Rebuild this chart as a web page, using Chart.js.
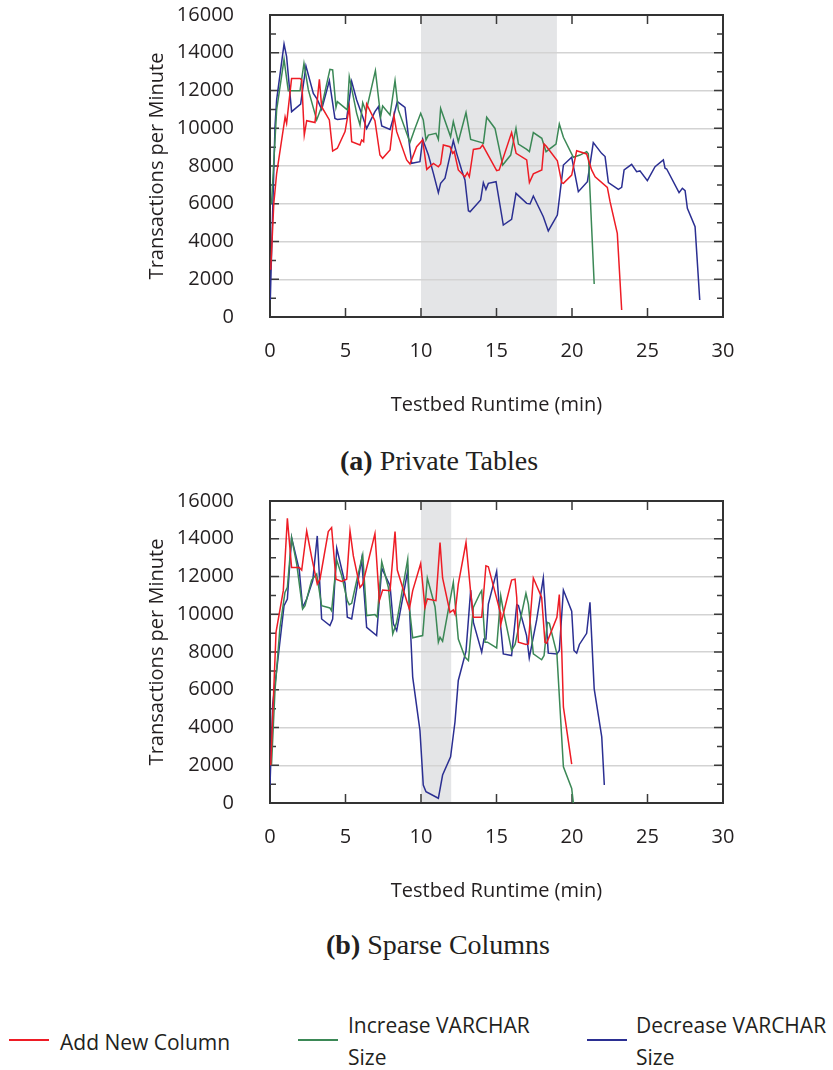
<!DOCTYPE html>
<html>
<head>
<meta charset="utf-8">
<script src="https://cdn.jsdelivr.net/npm/chart.js@4.4.0/dist/chart.umd.min.js"></script>
<style>
    body { margin: 0; background: #fff; width: 833px; height: 1070px; position: relative; overflow: hidden; font-family: 'Open Sans', sans-serif; color: #231f20; }
    canvas { position: absolute; left: 0; }
    #chart-a { top: 0; }
    #chart-b { top: 486px; }
    .caption { position: absolute; font-family: 'Liberation Serif', serif; font-size: 28px; white-space: nowrap; line-height: 1; }
    .caption b { font-weight: bold; }
    .legend-line { position: absolute; height: 2px; width: 40px; }
    .legend-text { position: absolute; font-size: 21px; line-height: 32px; white-space: nowrap; }
</style>
</head>
<body>
<canvas id="chart-a" width="833" height="430"></canvas>
<canvas id="chart-b" width="833" height="430"></canvas>

<div class="caption" style="left:340px; top:447px;"><b>(a)</b> Private Tables</div>
<div class="caption" style="left:326px; top:931px;"><b>(b)</b> Sparse Columns</div>

<div class="legend-line" style="left:9px; top:1039px; background:#ee1c25;"></div>
<div class="legend-text" style="left:60px; top:1026px;">Add New Column</div>
<div class="legend-line" style="left:298px; top:1039px; background:#3b8856;"></div>
<div class="legend-text" style="left:348px; top:1009px;">Increase VARCHAR<br>Size</div>
<div class="legend-line" style="left:587px; top:1039px; background:#2b2f92;"></div>
<div class="legend-text" style="left:636px; top:1009px;">Decrease VARCHAR<br>Size</div>

<script>
// --- DATA: [minute, transactions per minute] ---
const seriesNames = ['Add New Column', 'Increase VARCHAR Size', 'Decrease VARCHAR Size'];
const seriesColors = ['#ee1c25', '#3b8856', '#2b2f92'];

// (a) Private Tables
const redA = [[0.05,2500],[0.25,6000],[0.44,7600],[1.0,10600],[1.1,10260],[1.43,12640],[1.99,12640],[2.1,12560],[2.27,9640],[2.43,10400],[2.98,10300],[3.27,12590],[3.42,11140],[3.93,10440],[4.15,8790],[4.46,8940],[4.97,9820],[5.25,11110],[5.41,9290],[5.96,9110],[6.07,9380],[6.2,9290],[6.4,11280],[6.95,10400],[7.28,8580],[7.46,8410],[7.95,8850],[8.21,10650],[8.39,9820],[9.05,8320],[9.27,8110],[9.71,9020],[10.11,9380],[10.38,7820],[10.82,8140],[11.15,7960],[11.3,8110],[11.48,9110],[11.92,9020],[12.1,8670],[12.2,8760],[12.47,7790],[12.91,7430],[13.07,7650],[13.2,7430],[13.47,8880],[13.91,8940],[14.08,9110],[15.01,7750],[15.18,7790],[16.0,9770],[16.3,8670],[17.0,8320],[17.18,7120],[17.44,7580],[18.0,7790],[18.15,9170],[18.3,9050],[19.03,8280],[19.32,7120],[19.43,7080],[19.98,7520],[20.31,8810],[20.97,8640],[21.3,7790],[21.53,7430],[22.34,6870],[22.52,6110],[23.0,4430],[23.29,370]];
const greenA = [[0.1,6000],[0.44,10970],[0.93,13650],[1.21,11990],[1.99,11990],[2.25,13440],[2.54,12030],[3.09,10440],[3.42,11140],[3.97,13120],[4.15,13090],[4.37,11110],[4.46,11410],[5.12,10970],[5.25,12730],[5.74,10790],[5.96,10170],[6.14,11360],[6.36,10880],[6.98,13050],[7.33,10610],[7.46,11180],[7.95,10700],[8.28,12520],[8.5,10970],[9.27,9240],[9.6,9990],[9.98,10790],[10.15,10440],[10.33,9380],[10.49,9640],[10.99,9730],[11.15,9410],[11.3,11050],[11.96,9550],[12.14,10350],[12.47,9290],[12.98,10830],[13.29,9410],[14.02,9240],[14.13,9200],[14.35,10580],[14.9,9990],[15.41,8050],[15.94,8580],[16.29,9990],[16.45,9160],[17.0,8880],[17.18,8760],[17.44,9770],[18.0,9470],[18.28,8760],[18.94,9160],[19.16,10220],[19.43,9520],[20.09,8460],[20.53,8580],[20.97,8760],[21.08,8650],[21.47,1750]];
const blueA = [[0.02,900],[0.33,10080],[0.44,11500],[0.93,14460],[1.1,13790],[1.43,10880],[2.03,11280],[2.38,13300],[2.87,11850],[3.13,11530],[3.42,11000],[3.93,12520],[4.3,10520],[4.46,10470],[5.08,10520],[5.41,12470],[5.74,11500],[6.14,10610],[6.4,9990],[6.95,10880],[7.18,11140],[7.4,10120],[7.95,9940],[8.13,10440],[8.43,11410],[8.94,11110],[9.38,8140],[9.93,8230],[10.11,9410],[10.49,8580],[10.82,7610],[11.15,6590],[11.3,7080],[11.59,7350],[12.14,9340],[12.36,8670],[12.69,7790],[12.91,7260],[13.14,5630],[13.25,5580],[13.95,6200],[14.13,7120],[14.3,6760],[14.46,7080],[14.97,7170],[15.45,4870],[16.0,5170],[16.29,6550],[17.0,6020],[17.22,5990],[17.44,6410],[18.1,5310],[18.43,4560],[19.03,5400],[19.43,8050],[19.98,8460],[20.42,6640],[21.02,7170],[21.41,9240],[21.96,8670],[22.19,8500],[22.41,7120],[23.07,6760],[23.29,6870],[23.45,7790],[23.95,8090],[24.28,7700],[24.5,7740],[24.99,7220],[25.5,7960],[26.05,8320],[26.16,7880],[26.27,7840],[27.09,6590],[27.31,6820],[27.49,6690],[27.64,5760],[28.15,4790],[28.46,900]];

// (b) Sparse Columns
const redB = [[0.05,2000],[0.4,9050],[0.88,11250],[1.15,15080],[1.43,12480],[1.94,12480],[2.1,12340],[2.43,14410],[2.76,13010],[3.13,11600],[3.31,11860],[3.86,14380],[4.08,14590],[4.37,11860],[4.75,11740],[5.08,11860],[5.3,14410],[5.52,13090],[5.96,11420],[6.14,11600],[6.95,14270],[7.24,10720],[7.46,11280],[7.95,11250],[8.28,14380],[8.43,12340],[9.05,10720],[9.23,10280],[9.45,11250],[9.98,12690],[10.26,10370],[10.42,10810],[10.99,10720],[11.26,13800],[11.43,11920],[11.92,10100],[12.14,10230],[12.25,10010],[12.47,11600],[12.98,13800],[13.29,11160],[13.47,9840],[14.02,9840],[14.3,12570],[14.46,12520],[15.25,10100],[15.28,9450],[16.0,11810],[16.23,11860],[16.34,10890],[16.45,8520],[16.95,8400],[17.11,8430],[17.44,11920],[17.99,10890],[18.21,8520],[18.32,8470],[19.0,9840],[19.16,11040],[19.32,8080],[19.43,5090],[19.98,2060]];
const greenB = [[0.1,2000],[0.33,5970],[0.66,9310],[0.99,11160],[1.15,11420],[1.43,14060],[1.77,12650],[2.16,10280],[2.32,10450],[2.76,11810],[3.09,12130],[3.42,10450],[3.97,10330],[4.08,10190],[4.42,12870],[4.75,12040],[5.12,10720],[5.25,10510],[5.41,10580],[5.78,11920],[6.14,13150],[6.4,9930],[6.95,9980],[7.1,9840],[7.4,12780],[7.84,11420],[8.13,8960],[8.39,9570],[9.12,12920],[9.23,10370],[9.45,8750],[10.11,8870],[10.42,11920],[10.93,10400],[11.15,8520],[11.26,8780],[11.43,8570],[12.14,11690],[12.47,8690],[12.91,7730],[13.14,7550],[13.47,10370],[13.91,11110],[14.02,11250],[14.24,8520],[14.4,8520],[15.01,8220],[15.28,10980],[15.45,10190],[16.0,8080],[16.23,8400],[16.95,11110],[17.11,10540],[17.44,7900],[17.99,7590],[18.15,7810],[18.37,9570],[18.5,9520],[19.0,7900],[19.43,1920],[19.98,770],[20.09,0]];
const blueB = [[0.0,950],[0.18,5260],[0.44,7020],[0.93,10450],[1.15,10810],[1.43,14060],[1.94,12340],[2.16,10370],[2.43,10810],[2.83,11780],[3.13,14150],[3.42,9750],[3.97,9400],[4.15,9750],[4.42,13500],[4.97,11630],[5.12,9840],[5.41,9750],[6.07,12920],[6.4,9310],[7.06,8870],[7.4,12440],[7.95,11510],[8.17,9490],[8.39,9130],[9.12,12300],[9.45,6670],[9.93,3850],[10.15,950],[10.33,600],[11.15,250],[11.43,1480],[11.96,2450],[12.25,4290],[12.47,6490],[12.98,8040],[13.29,11280],[13.47,9570],[14.02,7990],[14.17,8690],[14.3,8690],[14.46,10540],[15.01,12270],[15.28,9310],[15.45,7900],[16.0,7810],[16.34,10510],[16.45,10460],[16.99,8870],[17.17,7690],[17.66,9700],[18.1,11920],[18.43,7940],[19.0,7900],[19.16,8080],[19.43,11280],[19.98,10160],[20.13,8080],[20.31,7940],[20.49,8400],[20.97,8990],[21.19,10630],[21.47,6050],[21.97,3500],[22.14,950]];

// shaded intervals (minutes)
const shadeA = [10, 19];
const shadeB = [10, 12];

// axes
const xMax = 30, xStep = 5;
const yMax = 16000, yStep = 2000;
const xTitle = 'Testbed Runtime (min)';
const yTitle = 'Transactions per Minute';

// --- PLUGIN: shaded band, inward ticks and frame ---
const framePlugin = {
    id: 'frame',
    beforeDraw(chart, args, opts) {
        const { ctx, chartArea: a, scales: { x } } = chart;
        const x0 = x.getPixelForValue(opts.shade[0]);
        const x1 = x.getPixelForValue(opts.shade[1]);
        ctx.save();
        ctx.fillStyle = '#e4e5e7';
        ctx.fillRect(x0, a.top, x1 - x0, a.bottom - a.top);
        ctx.restore();
    },
    beforeDatasetsDraw(chart) {
        const { ctx, chartArea: a, scales: { x, y } } = chart;
        ctx.save();
        ctx.strokeStyle = '#3a3a3a';
        ctx.lineWidth = 1.5;
        ctx.beginPath();
        for (let v = yStep / 2; v < yMax; v += yStep / 2) {
            const py = y.getPixelForValue(v);
            const len = v % yStep === 0 ? 9 : 6;
            ctx.moveTo(a.left, py); ctx.lineTo(a.left + len, py);
            ctx.moveTo(a.right, py); ctx.lineTo(a.right - len, py);
        }
        for (let v = xStep; v < xMax; v += xStep) {
            const px = x.getPixelForValue(v);
            ctx.moveTo(px, a.bottom); ctx.lineTo(px, a.bottom - 9);
            ctx.moveTo(px, a.top); ctx.lineTo(px, a.top + 9);
        }
        ctx.stroke();
        ctx.lineWidth = 2;
        ctx.strokeStyle = '#333';
        ctx.strokeRect(a.left, a.top, a.right - a.left, a.bottom - a.top);
        ctx.restore();
    }
};

const toPoints = (pairs) => pairs.map(([x, y]) => ({ x, y }));

const makeChart = (id, series, shade) => {
    const tickFont = { family: "'Open Sans', sans-serif", size: 20 };
    return new Chart(document.getElementById(id), {
        type: 'line',
        data: {
            datasets: series.map((s, i) => ({
                label: seriesNames[i],
                data: toPoints(s),
                borderColor: seriesColors[i],
                borderWidth: 1.5,
                pointRadius: 0,
                tension: 0,
                fill: false
            }))
        },
        options: {
            responsive: false,
            animation: false,
            layout: { padding: { top: 15, right: 110, left: 0, bottom: 0 } },
            plugins: {
                legend: { display: false },
                tooltip: { enabled: false },
                frame: { shade }
            },
            scales: {
                x: {
                    type: 'linear', min: 0, max: xMax,
                    ticks: { stepSize: xStep, font: tickFont, color: '#231f20', padding: 22, maxRotation: 0, callback: (v) => String(v) },
                    grid: { display: false, drawTicks: false },
                    border: { display: false },
                    title: { display: true, text: xTitle, font: tickFont, color: '#231f20', padding: { top: 0, bottom: 13 } },
                    afterFit: (s) => { s.height = 113; s.paddingLeft = 0; s.paddingRight = 0; }
                },
                y: {
                    min: 0, max: yMax,
                    ticks: { stepSize: yStep, font: tickFont, color: '#231f20', padding: 36, callback: (v) => String(v) },
                    grid: { color: '#d3d3d3', lineWidth: 1.5, drawTicks: false },
                    border: { display: false },
                    title: { display: true, text: yTitle, font: tickFont, color: '#231f20', padding: { top: 145, bottom: 0 } },
                    afterFit: (s) => { s.width = 270; s.paddingTop = 0; s.paddingBottom = 0; }
                }
            }
        },
        plugins: [framePlugin]
    });
};

makeChart('chart-a', [redA, greenA, blueA], shadeA);
makeChart('chart-b', [redB, greenB, blueB], shadeB);
</script>
</body>
</html>
